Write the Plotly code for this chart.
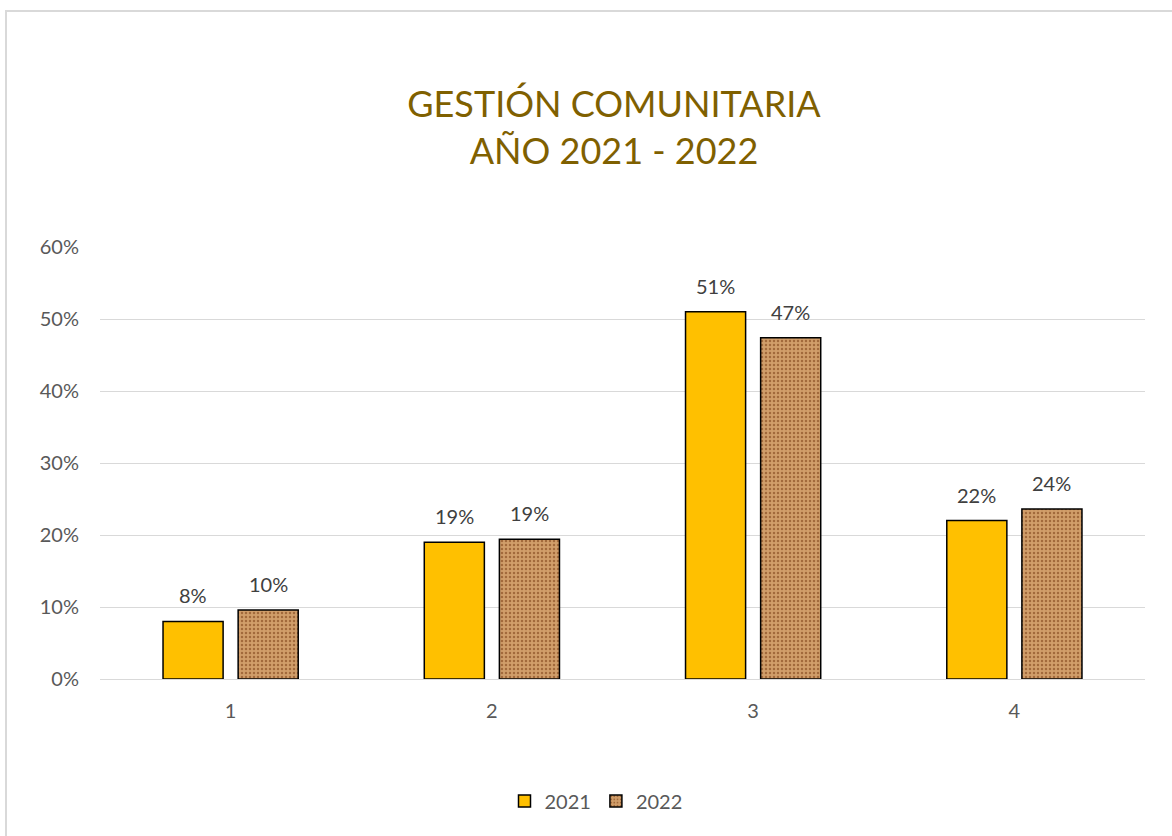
import plotly.graph_objects as go

categories = ["1", "2", "3", "4"]
values_2021 = [0.08, 0.19, 0.51, 0.22]
values_2022 = [0.096, 0.194, 0.474, 0.236]
series_names = ["2021", "2022"]
title_lines = ["GESTIÓN COMUNITARIA", "AÑO 2021 - 2022"]

FONT = "Lato, Calibri, 'Open Sans', sans-serif"

fig = go.Figure()
fig.add_trace(go.Bar(
    x=categories, y=values_2021, name=series_names[0],
    marker=dict(color="#FFC000", line=dict(color="#000000", width=1.5)),
))
fig.add_trace(go.Bar(
    x=categories, y=values_2022, name=series_names[1],
    marker=dict(
        color="#C99362",
        line=dict(color="#000000", width=1.5),
        pattern=dict(shape=".", fgcolor="#A26A3C", bgcolor="#D19E6A",
                     size=4, solidity=0.3, fillmode="replace"),
    ),
))

# data labels (category index positions on the category axis)
for vals, shift in ((values_2021, -37.5), (values_2022, 37.5)):
    for i, v in enumerate(vals):
        fig.add_annotation(
            x=i, y=v, text=f"{round(v * 100):.0f}%", showarrow=False,
            xshift=shift, yanchor="bottom", yshift=12,
            font=dict(family=FONT, size=20, color="#404040"),
        )

W, H = 1172, 836
L, R, T, B = 100, 27, 247, 157
pw, ph = W - L - R, H - T - B

def px_x(x):
    return (x - L) / pw

def px_y(y):
    return (H - B - y) / ph

fig.add_shape(type="rect", xref="paper", yref="paper",
              x0=px_x(6), x1=px_x(1180), y0=px_y(845), y1=px_y(11),
              line=dict(color="#D9D9D9", width=2), fillcolor="rgba(0,0,0,0)",
              layer="below")

fig.update_layout(
    width=W, height=H,
    margin=dict(l=L, r=R, t=T, b=B),
    paper_bgcolor="white", plot_bgcolor="white",
    barmode="group", bargap=0.425, bargroupgap=0.2,
    title=dict(text="<br>".join(title_lines), x=614 / W, xref="container", xanchor="center",
               y=1 - 117 / H, yref="container", yanchor="middle",
               font=dict(family=FONT, size=36, color="#7F6000")),
    font=dict(family=FONT, color="#595959"),
    showlegend=True,
    legend=dict(orientation="h", x=596 / W, xanchor="center", xref="container",
                y=1 - 801 / H, yref="container", yanchor="middle",
                font=dict(family=FONT, size=20, color="#595959"),
                itemwidth=30, traceorder="normal"),
    yaxis=dict(range=[0, 0.6], dtick=0.1, tickformat=".0%",
               gridcolor="#D9D9D9", gridwidth=1.3, zeroline=True,
               zerolinecolor="#D9D9D9", zerolinewidth=1.3,
               showline=False, ticks="", ticklabelstandoff=20,
               tickfont=dict(family=FONT, size=20, color="#595959")),
    xaxis=dict(type="category", showline=True, linecolor="#D9D9D9", linewidth=1.3,
               ticks="", ticklabelstandoff=14,
               tickfont=dict(family=FONT, size=20, color="#595959")),
)

fig.write_html("out.html")
